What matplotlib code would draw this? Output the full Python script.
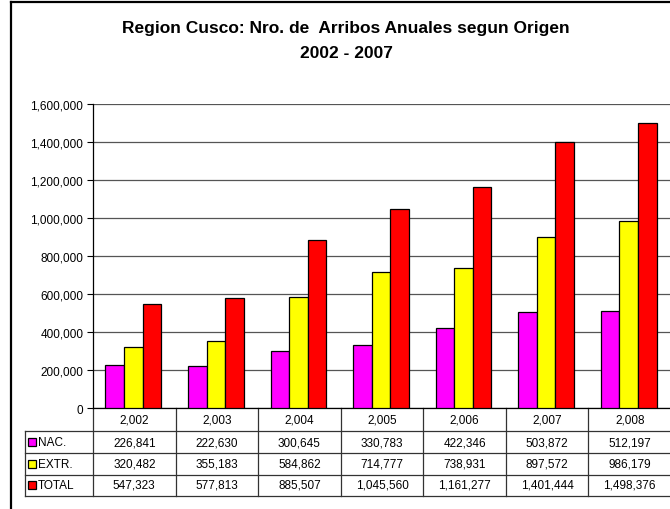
import matplotlib
matplotlib.use("Agg")
import matplotlib.pyplot as plt
import matplotlib.transforms as mtransforms
from matplotlib.lines import Line2D
from matplotlib.patches import Rectangle
from matplotlib.ticker import FuncFormatter

plt.rcParams['font.family'] = ['Liberation Sans', 'DejaVu Sans']

years = ["2,002", "2,003", "2,004", "2,005", "2,006", "2,007", "2,008"]
series_names = ["NAC.", "EXTR.", "TOTAL"]
nac = [226841, 222630, 300645, 330783, 422346, 503872, 512197]
extr = [320482, 355183, 584862, 714777, 738931, 897572, 986179]
total = [547323, 577813, 885507, 1045560, 1161277, 1401444, 1498376]
colors = ["#FF00FF", "#FFFF00", "#FF0000"]
title_line1 = "Region Cusco: Nro. de  Arribos Anuales segun Origen"
title_line2 = "2002 - 2007"

W, H = 670, 510
fig = plt.figure(figsize=(W / 100, H / 100), dpi=100)
fig.patch.set_facecolor("white")

# outer chart border (left and top visible; chart is cropped on right/bottom)
fig.add_artist(Line2D([11 / W, 11 / W], [0, 1 - 3 / H], color="black", lw=1.6, transform=fig.transFigure))
fig.add_artist(Line2D([11 / W, 1], [1 - 3 / H, 1 - 3 / H], color="black", lw=1.6, transform=fig.transFigure))

ax_left, ax_right, ax_top, ax_bot = 93, 671, 105, 409
ax = fig.add_axes([ax_left / W, 1 - ax_bot / H, (ax_right - ax_left) / W, (ax_bot - ax_top) / H])

data = [nac, extr, total]
n = len(years)
bw = 0.225
offsets = [-bw, 0, bw]
x = list(range(n))
for vals, c, off in zip(data, colors, offsets):
    ax.bar([i + off - 0.012 for i in x], vals, width=bw, color=c, edgecolor="black", linewidth=0.9, zorder=3)

ax.set_xlim(-0.5, n - 0.5)
ax.set_ylim(0, 1600000)
ax.set_yticks(range(0, 1600001, 200000))
ax.yaxis.set_major_formatter(FuncFormatter(lambda v, p: f"{int(v):,}"))
ax.tick_params(axis="y", labelsize=8.5, length=4, width=0.8, direction="out", pad=3)
ax.set_xticks([])
ax.grid(axis="y", color="#555555", lw=0.9, zorder=0)
for s in ["top", "right"]:
    ax.spines[s].set_visible(False)
ax.spines["left"].set_color("black")
ax.spines["bottom"].set_color("black")
ax.spines["left"].set_linewidth(0.9)
ax.spines["bottom"].set_linewidth(0.9)

# data table below the axis
axh = ax_bot - ax_top
axw = ax_right - ax_left
def yf(py):
    return (ax_bot - py) / axh
row_lines = [409, 432, 454, 475.5, 496.5]
label_left = (25 - ax_left) / axw
blend = mtransforms.blended_transform_factory(ax.transData, ax.transAxes)
lc = "#333333"
for py in row_lines[1:]:
    ax.add_artist(Line2D([label_left, 1.0], [yf(py), yf(py)], color=lc, lw=0.9,
                         transform=ax.transAxes, clip_on=False))
for i in range(n + 1):
    ax.add_artist(Line2D([i - 0.5, i - 0.5], [0, yf(row_lines[-1])], color=lc, lw=0.9,
                         transform=blend, clip_on=False))
ax.add_artist(Line2D([label_left, label_left], [yf(row_lines[1]), yf(row_lines[-1])], color=lc, lw=0.9,
                     transform=ax.transAxes, clip_on=False))

ymid = (yf(row_lines[0]) + yf(row_lines[1])) / 2
for i, yr in enumerate(years):
    ax.text(i, ymid, yr, transform=blend, ha="center", va="center", fontsize=8.5, clip_on=False)

for r, (name, vals, c) in enumerate(zip(series_names, data, colors)):
    ym = (yf(row_lines[r + 1]) + yf(row_lines[r + 2])) / 2
    for i, v in enumerate(vals):
        ax.text(i, ym, f"{v:,}", transform=blend, ha="center", va="center", fontsize=8.5, clip_on=False)
    kx = (28 - ax_left) / axw
    kw = 7.5 / axw
    kh = 7.5 / axh
    ax.add_artist(Rectangle((kx, ym - kh / 2), kw, kh, facecolor=c, edgecolor="black", lw=0.9,
                            transform=ax.transAxes, clip_on=False))
    ax.text((38 - ax_left) / axw, ym, name, transform=ax.transAxes, ha="left", va="center",
            fontsize=8.5, clip_on=False)

fig.text(346 / W, 1 - 29 / H, title_line1, ha="center", va="center", fontsize=12.5, fontweight="bold")
fig.text(346 / W, 1 - 54 / H, title_line2, ha="center", va="center", fontsize=12.5, fontweight="bold")

fig.savefig("out.png", dpi=100, facecolor="white")
